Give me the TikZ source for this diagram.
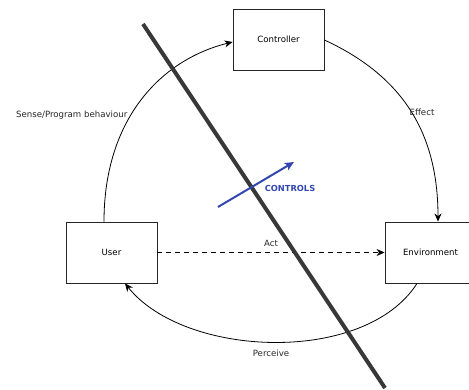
\documentclass[tikz,border=0pt]{standalone}
\usepackage{fontspec}
\setmainfont{DejaVu Sans}
\usetikzlibrary{arrows.meta}
\definecolor{ctrlblue}{HTML}{3447B0}
\definecolor{barline}{HTML}{383838}
\tikzset{
  box/.style={draw=black!85, line width=0.9pt, minimum width=91pt, minimum height=61pt, inner sep=0pt, font=\fontsize{8.6}{10}\selectfont},
  lbl/.style={font=\fontsize{8.6}{10}\selectfont, inner sep=0pt, text=black!85},
  flow/.style={line width=0.8pt, -{Stealth[length=8pt,width=7pt,inset=2.5pt]}},
}
\begin{document}
\begin{tikzpicture}[x=1pt,y=-1pt]
  \clip (0,0) rectangle (469,390);
  \fill[white] (0,0) rectangle (469,390);

  % the three parties (Environment runs past the right margin)
  \node[box] (ctrl) at (278.5,39.5) {Controller};
  \node[box] (user) at (111.5,252.5) {User};
  \node[box, minimum width=111pt] (env) at (440.5,252.5) {\hspace*{-20pt}Environment};

  % cycle of curved connectors
  \draw[flow] (user.north) ++(-7.5,0) coordinate (u1)
    .. controls (104,120) and (160,60) .. (ctrl.west |- 0,42) coordinate (c1);
  \draw[flow] (ctrl.east |- 0,40) coordinate (c2)
    .. controls (400,75) and (438,130) .. (env.north -| 438,0) coordinate (e1);
  \draw[flow] (env.south -| 417,0) coordinate (e2)
    .. controls (365,365) and (185,358) .. (user.south -| 125,0) coordinate (u2);

  % direct action
  \draw[flow, dashed, dash pattern=on 5pt off 4pt] (user.east) -- (env.west);

  % edge labels
  \node[lbl, anchor=west] (lsense) at (16,115) {Sense/Program behaviour};
  \node[lbl] (leffect) at (422,112) {Effect};
  \node[lbl] (lact) at (271,243) {Act};
  \node[lbl] (lperc) at (271,353) {Perceive};

  % dividing bar
  \coordinate (b1) at (143,24);
  \coordinate (b2) at (385,388);
  \draw[barline, line width=4pt] (b1) -- (b2);

  % control direction
  \coordinate (a1) at (218,207);
  \coordinate (a2) at (294,162);
  \draw[ctrlblue, line width=2pt, -{Stealth[length=9pt,width=8pt,inset=2pt]}] (a1) -- (a2);
  \node[font=\bfseries\fontsize{8.3}{10}\selectfont, text=ctrlblue, inner sep=0pt] (lctrl) at (290,188) {CONTROLS};
\end{tikzpicture}
\end{document}
